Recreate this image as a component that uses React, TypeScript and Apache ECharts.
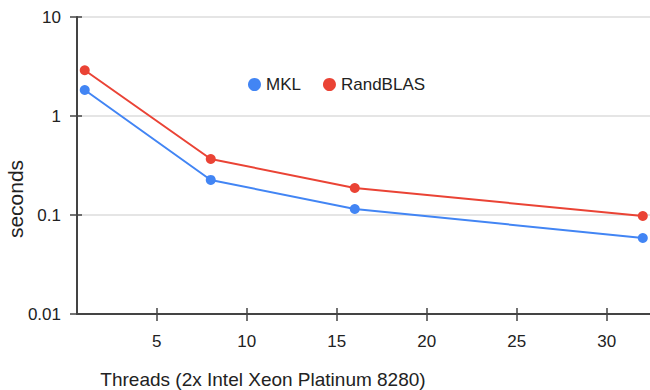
import React, { useEffect, useRef } from "react";
import * as echarts from "echarts";

const threads = [1, 8, 16, 32];
const mklSeconds = [1.83, 0.226, 0.115, 0.0586];
const randblasSeconds = [2.9, 0.368, 0.1875, 0.0977];
const xTickValues = [5, 10, 15, 20, 25, 30];
const yTickLabels = ["0.01", "0.1", "1", "10"];

const seriesNames = ["MKL", "RandBLAS"];
const seriesColors = ["#4285F4", "#EA4335"];

export default function App() {
  const ref = useRef<HTMLDivElement>(null);
  useEffect(() => {
    if (!ref.current) return;
    const chart = echarts.init(ref.current, null, { renderer: "svg" });
    const font = "'Liberation Sans', Arial, sans-serif";
    const axisColor = "#444";
    const mk = (vals: number[]) => threads.map((t, i) => [t, vals[i]]);
    chart.setOption({
      animation: false,
      backgroundColor: "#fff",
      textStyle: { fontFamily: font },
      grid: { left: 77, right: 0, top: 17, bottom: 76, containLabel: false },
      legend: {
        left: 243,
        top: 71,
        icon: "circle",
        itemWidth: 13,
        itemHeight: 13,
        itemGap: 22,
        textStyle: { fontSize: 17, color: "#222", fontFamily: font },
        data: seriesNames,
      },
      xAxis: [
        {
          type: "value",
          min: 0.57,
          max: 32.4,
          axisLine: { show: true, lineStyle: { color: axisColor, width: 2 } },
          axisTick: { show: true, length: 7, customValues: xTickValues, lineStyle: { color: axisColor, width: 1.5 } },
          axisLabel: { customValues: xTickValues, margin: 19, fontSize: 17, color: "#222", fontFamily: font },
          splitLine: { show: false },
        },
        {
          type: "value",
          min: 0.57,
          max: 32.4,
          position: "bottom",
          axisLine: { show: false },
          axisTick: { show: true, inside: true, length: 6, customValues: xTickValues, lineStyle: { color: axisColor, width: 1.5 } },
          axisLabel: { show: false },
          splitLine: { show: false },
        },
      ],
      yAxis: [
        {
          type: "log",
          logBase: 10,
          min: 0.01,
          max: 10,
          axisLine: { show: true, lineStyle: { color: axisColor, width: 2 } },
          axisTick: { show: true, length: 7, lineStyle: { color: axisColor, width: 1.5 } },
          axisLabel: {
            margin: 16,
            fontSize: 17,
            color: "#222",
            fontFamily: font,
            formatter: (v: number) => {
              const idx = Math.round(Math.log10(v)) + 2;
              return yTickLabels[idx] ?? String(v);
            },
          },
          splitLine: { show: true, lineStyle: { color: "#dcdcdc", width: 1.5 } },
          minorTick: { show: false },
        },
        {
          type: "log",
          logBase: 10,
          min: 0.01,
          max: 10,
          position: "left",
          axisLine: { show: false },
          axisTick: { show: true, inside: true, length: 5, lineStyle: { color: axisColor, width: 1.5 } },
          axisLabel: { show: false },
          splitLine: { show: false },
        },
      ],
      series: [
        {
          name: seriesNames[0],
          type: "line",
          data: mk(mklSeconds),
          color: seriesColors[0],
          symbol: "circle",
          symbolSize: 10,
          lineStyle: { width: 2 },
        },
        {
          name: seriesNames[1],
          type: "line",
          data: mk(randblasSeconds),
          color: seriesColors[1],
          symbol: "circle",
          symbolSize: 10,
          lineStyle: { width: 2 },
        },
      ],
      graphic: [
        {
          type: "text",
          x: 15,
          y: 199,
          rotation: Math.PI / 2,
          style: {
            text: "seconds",
            fontSize: 21,
            fontFamily: font,
            fill: "#222",
            align: "center",
            verticalAlign: "middle",
          },
        },
        {
          type: "text",
          x: 263,
          y: 379,
          style: {
            text: "Threads (2x Intel Xeon Platinum 8280)",
            fontSize: 19,
            fontFamily: font,
            fill: "#222",
            align: "center",
            verticalAlign: "middle",
          },
        },
      ],
    });
    return () => chart.dispose();
  }, []);
  return (
    <div
      ref={ref}
      style={{ width: 650, height: 390, position: "absolute", left: 0, top: 0 }}
    />
  );
}
